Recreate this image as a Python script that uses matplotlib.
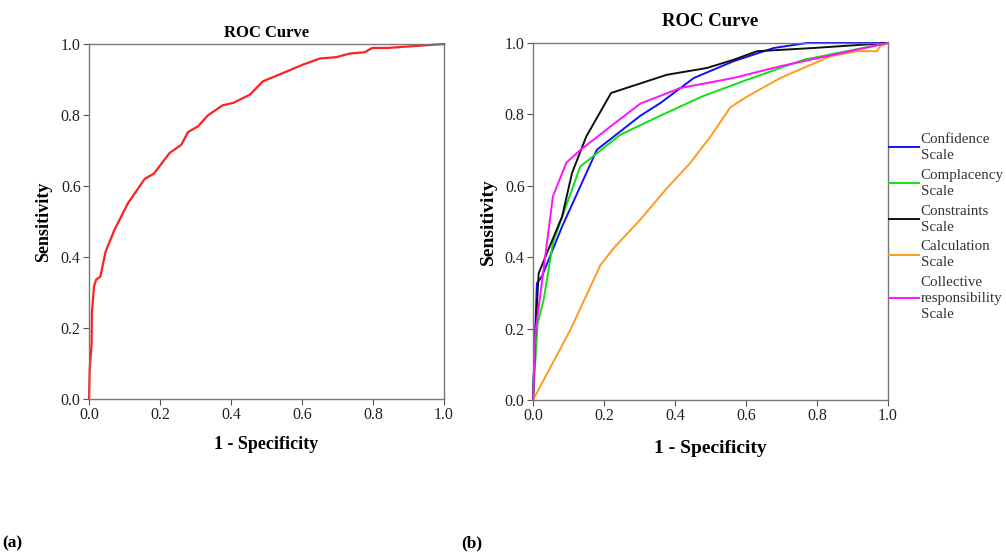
import matplotlib.pyplot as plt

plt.rcParams['font.family'] = ['Liberation Serif', 'DejaVu Serif']

# panel (a): single ROC curve
fpr_a = [0.0, 0.002, 0.0075, 0.008, 0.014, 0.02, 0.032, 0.047, 0.072, 0.11, 0.157, 0.183,
         0.227, 0.26, 0.279, 0.307, 0.335, 0.376, 0.406, 0.453, 0.49, 0.546, 0.603, 0.65,
         0.697, 0.734, 0.777, 0.798, 0.842, 1.0]
tpr_a = [0.0, 0.083, 0.158, 0.24, 0.317, 0.336, 0.345, 0.416, 0.477, 0.552, 0.62, 0.635,
         0.693, 0.716, 0.752, 0.768, 0.799, 0.827, 0.834, 0.857, 0.895, 0.918, 0.942, 0.959,
         0.963, 0.973, 0.977, 0.989, 0.989, 1.0]

# panel (b): five scales
conf_x = [0.0, 0.011, 0.025, 0.082, 0.18, 0.302, 0.359, 0.453, 0.565, 0.678, 0.772, 1.0]
conf_y = [0.0, 0.327, 0.346, 0.486, 0.701, 0.796, 0.832, 0.902, 0.949, 0.986, 1.0, 1.0]

comp_x = [0.0, 0.013, 0.03, 0.056, 0.133, 0.246, 0.345, 0.476, 0.603, 0.762, 1.0]
comp_y = [0.0, 0.215, 0.28, 0.44, 0.654, 0.743, 0.79, 0.85, 0.897, 0.953, 1.0]

cons_x = [0.0, 0.0066, 0.016, 0.039, 0.082, 0.11, 0.15, 0.22, 0.377, 0.49, 0.565, 0.631, 0.79, 1.0]
cons_y = [0.0, 0.187, 0.355, 0.411, 0.514, 0.636, 0.738, 0.86, 0.911, 0.93, 0.953, 0.977, 0.986, 1.0]

calc_x = [0.0, 0.03, 0.105, 0.19, 0.227, 0.302, 0.377, 0.443, 0.5, 0.556, 0.603, 0.697, 0.838,
          0.913, 0.969, 0.978, 1.0]
calc_y = [0.0, 0.056, 0.196, 0.378, 0.425, 0.505, 0.593, 0.664, 0.738, 0.82, 0.85, 0.902, 0.963,
          0.977, 0.977, 0.991, 1.0]

coll_x = [0.0, 0.0066, 0.02, 0.056, 0.094, 0.133, 0.218, 0.302, 0.415, 0.565, 0.697, 1.0]
coll_y = [0.0, 0.187, 0.29, 0.57, 0.665, 0.70, 0.766, 0.83, 0.874, 0.902, 0.935, 1.0]

labels = ['Confidence\nScale', 'Complacency\nScale', 'Constraints\nScale',
          'Calculation\nScale', 'Collective\nresponsibility\nScale']
colors = ['#1010ff', '#10e010', '#111111', '#ff9a20', '#ff10ff']

W, H = 1006, 556
fig = plt.figure(figsize=(W / 100, H / 100), dpi=100)
ax1 = fig.add_axes([89 / W, 1 - 399 / H, 355 / W, 355 / H])
ax2 = fig.add_axes([533 / W, 1 - 400 / H, 355 / W, 357 / H])


def style(ax, tsize, lsize, tpad, xpad):
    ax.set_xlim(0, 1)
    ax.set_ylim(0, 1)
    ticks = [0.0, 0.2, 0.4, 0.6, 0.8, 1.0]
    ax.set_xticks(ticks)
    ax.set_yticks(ticks)
    ax.set_xticklabels(['%.1f' % t for t in ticks])
    ax.set_yticklabels(['%.1f' % t for t in ticks])
    ax.tick_params(direction='out', length=4, width=0.8, color='#555555',
                   labelsize=11.5, labelcolor='#222222', pad=2)
    for s in ax.spines.values():
        s.set_color('#777777')
        s.set_linewidth(1.0)
    ax.set_title('ROC Curve', fontsize=tsize, fontweight='bold', pad=tpad)
    ax.set_xlabel('1 - Specificity', fontsize=lsize, fontweight='bold', labelpad=xpad)
    ax.set_ylabel('Sensitivity', fontsize=lsize, fontweight='bold', labelpad=6)


ax1.plot(fpr_a, tpr_a, color='#ff2020', lw=1.6, clip_on=False)
style(ax1, 12, 13, 5, 9)

series = [(conf_x, conf_y), (comp_x, comp_y), (cons_x, cons_y), (calc_x, calc_y), (coll_x, coll_y)]
for (x, y), c, lab in zip(series, colors, labels):
    ax2.plot(x, y, color=c, lw=1.4, label=lab, clip_on=False)
style(ax2, 13.5, 14, 12, 11)
leg = ax2.legend(loc='upper left', bbox_to_anchor=(889 / W, 1 - 133 / H), bbox_transform=fig.transFigure,
                 frameon=False, fontsize=10.8, handlelength=2.0, handletextpad=0.1,
                 labelspacing=0.45, borderpad=0, borderaxespad=0)
for t in leg.get_texts():
    t.set_linespacing(1.3)
    t.set_color('#333333')

fig.text(2 / W, 1 - 543 / H, '(a)', fontsize=12.5, fontweight='bold', va='center')
fig.text(461 / W, 1 - 543 / H, '(b)', fontsize=12.5, fontweight='bold', va='center')

fig.savefig('out.png', dpi=100)
